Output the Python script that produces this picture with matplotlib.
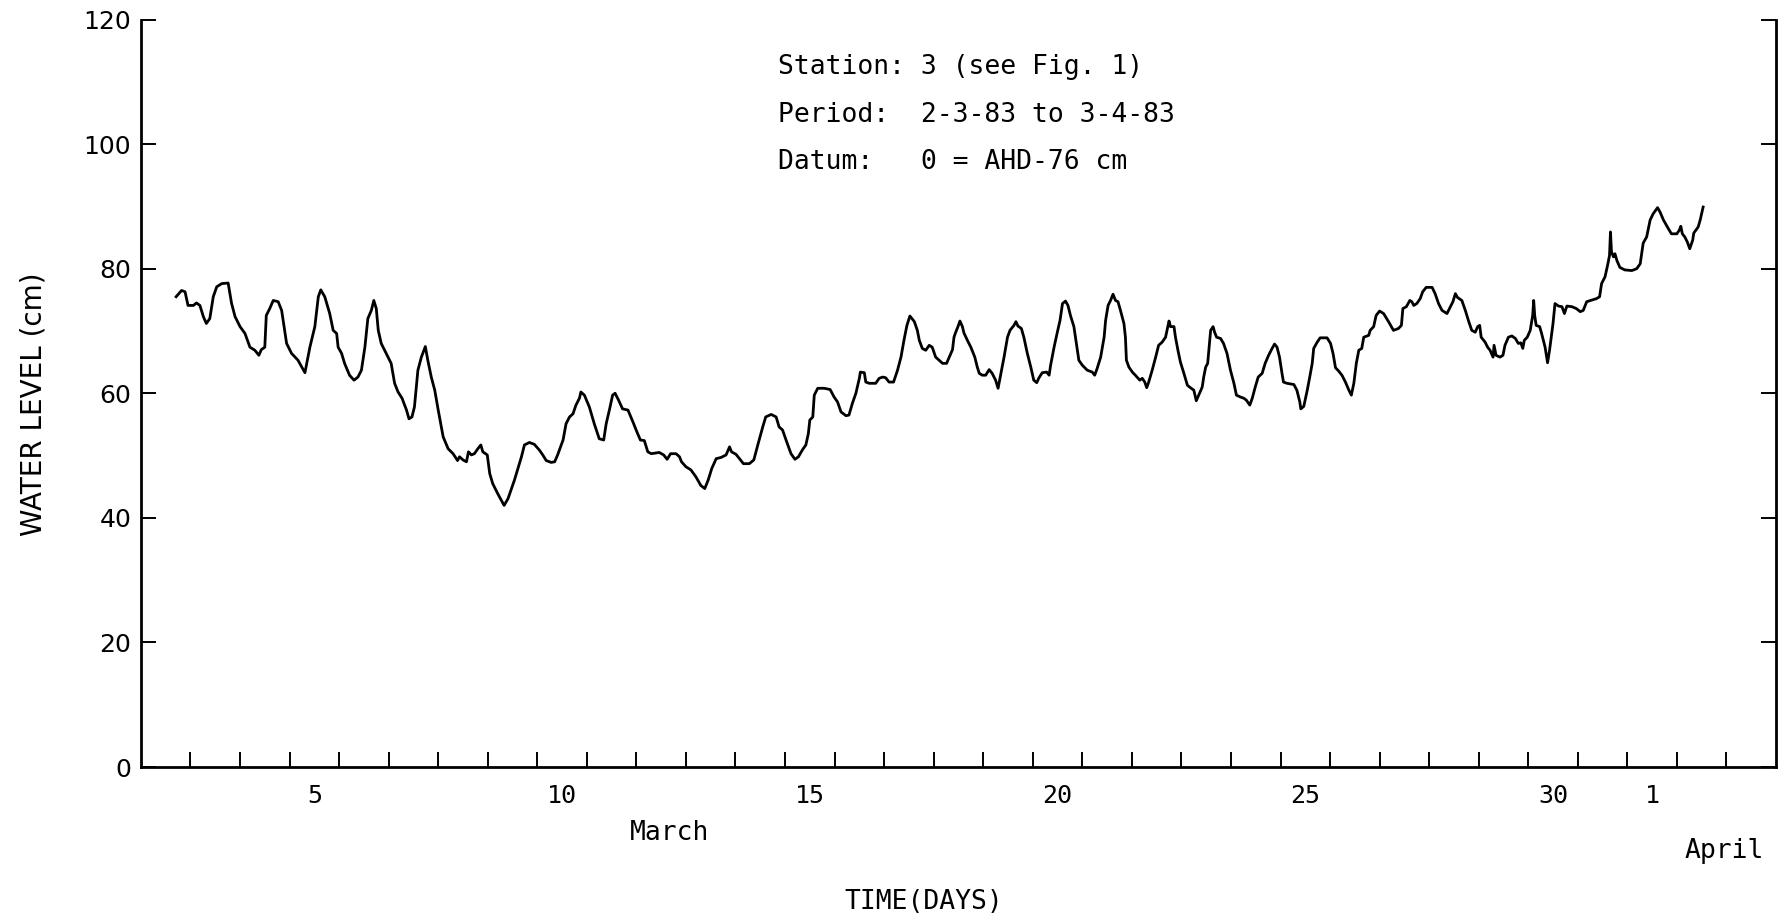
import matplotlib
matplotlib.use("Agg")
import matplotlib.pyplot as plt

# water level record, station 3, 2 March - 3 April 1983
# x = day of March (integer = midnight), April 1 = 32
day = [
    2.71, 2.82, 2.89, 2.95, 3.06, 3.12, 3.19, 3.26, 3.32, 3.39, 3.46, 3.53, 3.63, 3.76, 3.83, 3.90,
    4.00, 4.10, 4.20, 4.30, 4.38, 4.43, 4.50, 4.53, 4.60, 4.67, 4.77, 4.84, 4.94, 5.04, 5.17, 5.31,
    5.41, 5.51, 5.58, 5.63, 5.71, 5.81, 5.88, 5.95, 5.98, 6.05, 6.11, 6.21, 6.30, 6.38, 6.45, 6.52,
    6.58, 6.65, 6.70, 6.75, 6.79, 6.85, 6.95, 7.05, 7.12, 7.19, 7.27, 7.36, 7.41, 7.47, 7.52, 7.59,
    7.66, 7.74, 7.79, 7.86, 7.93, 8.00, 8.10, 8.20, 8.30, 8.39, 8.43, 8.50, 8.57, 8.61, 8.67, 8.73,
    8.80, 8.86, 8.90, 8.99, 9.04, 9.10, 9.20, 9.33, 9.41, 9.54, 9.68, 9.74, 9.84, 9.94, 10.04, 10.11,
    10.18, 10.28, 10.35, 10.41, 10.52, 10.58, 10.65, 10.72, 10.78, 10.85, 10.88, 10.95, 11.05, 11.15,
    11.25, 11.34, 11.39, 11.46, 11.52, 11.57, 11.64, 11.72, 11.83, 11.93, 12.01, 12.08, 12.16, 12.23,
    12.30, 12.46, 12.55, 12.62, 12.69, 12.80, 12.87, 12.91, 13.00, 13.10, 13.20, 13.30, 13.38, 13.45,
    13.52, 13.61, 13.71, 13.81, 13.88, 13.92, 14.01, 14.08, 14.16, 14.28, 14.37, 14.45, 14.55, 14.61,
    14.72, 14.82, 14.88, 14.95, 15.02, 15.12, 15.20, 15.27, 15.35, 15.42, 15.47, 15.50, 15.56, 15.59,
    15.66, 15.79, 15.91, 15.99, 16.06, 16.13, 16.23, 16.29, 16.36, 16.43, 16.50, 16.52, 16.60, 16.63,
    16.70, 16.83, 16.90, 16.97, 17.03, 17.10, 17.19, 17.27, 17.34, 17.40, 17.46, 17.52, 17.61, 17.67,
    17.71, 17.77, 17.84, 17.91, 17.97, 18.04, 18.11, 18.18, 18.26, 18.33, 18.38, 18.41, 18.44, 18.49,
    18.53, 18.58, 18.61, 18.68, 18.75, 18.83, 18.88, 18.92, 18.98, 19.05, 19.12, 19.18, 19.25, 19.30,
    19.35, 19.42, 19.49, 19.54, 19.62, 19.66, 19.70, 19.77, 19.82, 19.89, 19.96, 20.02, 20.08, 20.12,
    20.19, 20.28, 20.33, 20.36, 20.43, 20.49, 20.55, 20.60, 20.66, 20.71, 20.76, 20.83, 20.88, 20.93,
    21.00, 21.10, 21.20, 21.25, 21.30, 21.37, 21.44, 21.47, 21.52, 21.57, 21.62, 21.67, 21.72, 21.77,
    21.84, 21.87, 21.89, 21.94, 22.01, 22.07, 22.16, 22.21, 22.26, 22.30, 22.34, 22.41, 22.48, 22.54,
    22.61, 22.68, 22.71, 22.75, 22.78, 22.85, 22.88, 22.93, 22.98, 23.05, 23.12, 23.18, 23.25, 23.30,
    23.35, 23.42, 23.45, 23.49, 23.53, 23.56, 23.59, 23.64, 23.67, 23.71, 23.79, 23.85, 23.92, 23.99,
    24.06, 24.11, 24.19, 24.26, 24.31, 24.38, 24.43, 24.49, 24.55, 24.63, 24.69, 24.76, 24.83, 24.88,
    24.93, 24.98, 25.03, 25.06, 25.13, 25.27, 25.33, 25.39, 25.41, 25.47, 25.54, 25.59, 25.64, 25.67,
    25.74, 25.80, 25.94, 26.01, 26.06, 26.11, 26.17, 26.24, 26.31, 26.38, 26.43, 26.48, 26.53, 26.58,
    26.64, 26.68, 26.78, 26.81, 26.88, 26.93, 27.00, 27.08, 27.18, 27.28, 27.38, 27.44, 27.47, 27.54,
    27.61, 27.65, 27.69, 27.75, 27.82, 27.87, 27.94, 28.06, 28.12, 28.19, 28.26, 28.36, 28.43, 28.48,
    28.53, 28.57, 28.66, 28.73, 28.80, 28.86, 28.93, 28.98, 29.02, 29.05, 29.13, 29.18, 29.23, 29.29,
    29.31, 29.35, 29.43, 29.49, 29.53, 29.60, 29.67, 29.74, 29.80, 29.85, 29.89, 29.92, 29.98, 30.04,
    30.09, 30.11, 30.13, 30.16, 30.23, 30.27, 30.34, 30.39, 30.43, 30.50, 30.54, 30.61, 30.68, 30.73,
    30.78, 30.88, 30.97, 31.05, 31.11, 31.18, 31.26, 31.38, 31.44, 31.48, 31.55, 31.60, 31.64, 31.66,
    31.68, 31.72, 31.75, 31.79, 31.85, 31.95, 32.09, 32.19, 32.26, 32.29, 32.32, 32.39, 32.46, 32.52,
    32.61, 32.66, 32.73, 32.83, 32.89, 33.00, 33.05, 33.08, 33.11, 33.16, 33.21, 33.26, 33.32, 33.34,
    33.43, 33.47, 33.53,
]
level = [
    75.5, 76.5, 76.3, 74.1, 74.1, 74.5, 74.1, 72.3, 71.2, 72.0, 75.5, 77.1, 77.6, 77.7, 74.4, 72.3,
    70.7, 69.6, 67.4, 66.9, 66.1, 67.0, 67.4, 72.5, 73.6, 74.9, 74.7, 73.3, 68.0, 66.4, 65.3, 63.3,
    67.4, 70.7, 75.5, 76.6, 75.5, 72.8, 70.1, 69.6, 67.4, 66.4, 64.8, 62.9, 62.1, 62.6, 63.7, 67.4,
    72.0, 73.3, 74.9, 73.6, 70.1, 68.0, 66.4, 64.8, 61.6, 60.2, 59.2, 57.3, 55.9, 56.2, 57.8, 63.7,
    65.8, 67.5, 65.3, 62.6, 60.5, 57.3, 53.0, 51.1, 50.3, 49.2, 49.8, 49.3, 49.0, 50.6, 50.1, 50.3,
    51.1, 51.7, 50.6, 50.1, 47.1, 45.5, 43.9, 42.0, 43.1, 46.1, 49.8, 51.7, 52.1, 51.8, 50.9, 50.1,
    49.2, 48.9, 49.0, 50.1, 52.5, 55.1, 56.2, 56.7, 58.1, 59.2, 60.2, 59.7, 57.8, 55.1,
    52.7, 52.5, 55.1, 57.5, 59.7, 60.0, 58.9, 57.5, 57.3, 55.4, 53.8, 52.5, 52.4, 50.6,
    50.3, 50.5, 50.1, 49.4, 50.3, 50.3, 49.8, 49.0, 48.2, 47.7, 46.6, 45.2, 44.7, 46.1,
    47.9, 49.5, 49.7, 50.1, 51.4, 50.6, 50.2, 49.5, 48.7, 48.7, 49.3, 51.7, 54.6, 56.2,
    56.6, 56.2, 54.6, 54.1, 52.5, 50.3, 49.4, 49.8, 50.9, 51.7, 53.5, 55.7, 56.2, 59.7,
    60.8, 60.8, 60.6, 59.4, 58.6, 57.0, 56.4, 56.5, 58.4, 60.0, 62.4, 63.4, 63.3, 61.8,
    61.6, 61.6, 62.4, 62.6, 62.5, 61.8, 61.8, 63.7, 65.8, 68.5, 70.9, 72.4, 71.5, 70.1,
    68.5, 67.2, 66.9, 67.7, 67.4, 65.8, 65.3, 64.8, 64.8, 66.1, 67.0, 69.0, 69.7, 70.7,
    71.6, 70.7, 69.7, 68.5, 67.4, 65.8, 64.2, 63.2, 62.9, 62.9, 63.8, 63.2, 62.1, 60.8,
    62.9, 65.8, 69.0, 70.1, 70.9, 71.5, 70.8, 70.4, 69.0, 66.4, 64.2, 62.1, 61.7, 62.4,
    63.3, 63.4, 62.9, 64.5, 67.4, 69.6, 71.7, 74.4, 74.8, 74.1, 72.5, 70.7, 68.0, 65.3,
    64.5, 63.7, 63.4, 62.9, 64.0, 65.8, 69.0, 71.7, 74.1, 74.9, 75.9, 74.9, 74.7, 73.3,
    71.2, 69.0, 65.3, 64.2, 63.4, 62.9, 62.1, 62.4, 61.8, 60.9, 61.8, 63.7, 65.8, 67.7,
    68.2, 69.0, 70.1, 71.6, 70.7, 70.7, 69.0, 66.9, 65.0, 63.2, 61.3, 60.9, 60.5, 58.8,
    59.7, 61.0, 62.6, 64.2, 64.8, 67.4, 70.1, 70.7, 69.8, 69.0, 68.8, 68.0, 66.4, 63.7,
    61.6, 59.7, 59.4, 59.2, 58.9, 58.1, 59.2, 61.0, 62.6, 63.2, 64.8, 66.1, 67.2, 67.9,
    67.4, 65.8, 63.2, 61.8, 61.6, 61.4, 60.5, 58.6, 57.5, 57.9, 60.5, 62.6, 64.8, 67.2,
    68.2, 68.9, 68.9, 68.0, 66.4, 64.1, 63.6, 62.9, 61.8, 60.5, 59.7, 61.6, 64.8, 66.9,
    67.2, 69.0, 69.3, 70.1, 70.7, 72.5, 73.2, 72.8, 71.5, 70.1, 70.4, 70.9, 73.6, 73.9,
    74.9, 74.7, 74.1, 74.4, 75.2, 76.3, 77.0, 77.0, 76.0, 74.4, 73.3, 72.8, 73.9, 74.7,
    76.0, 75.4, 74.9, 73.3, 71.5, 70.1, 69.8, 70.7, 70.9, 69.0, 68.2, 67.4, 66.9, 65.8,
    67.7, 66.1, 65.8, 66.1, 67.7, 69.0, 69.2, 68.8, 68.0, 68.1, 67.2, 68.5, 69.0, 70.1,
    72.5, 74.9, 72.5, 70.9, 70.7, 69.6, 67.4, 64.9, 66.9, 71.2, 74.4, 74.0, 73.9, 72.8,
    74.0, 73.9, 73.6, 73.1, 73.3, 74.7, 74.9, 75.2, 75.5, 77.6, 78.7, 80.5, 82.1, 85.9,
    82.7, 81.9, 82.4, 81.3, 80.2, 79.8, 79.7, 80.0, 80.8, 82.4, 84.1, 85.1, 87.8, 88.8,
    89.8, 89.1, 87.8, 86.4, 85.6, 85.6, 86.2, 86.8, 85.6, 85.1, 84.3, 83.2, 84.6, 85.7,
    86.7, 87.8, 89.9,
]

day_ticks = list(range(3, 35))
label_pos = [5.5, 10.5, 15.5, 20.5, 25.5, 30.5, 32.5]
label_txt = ["5", "10", "15", "20", "25", "30", "1"]
y_ticks = [0, 20, 40, 60, 80, 100, 120]

fig = plt.figure(figsize=(17.84, 9.21), dpi=100)
ax = fig.add_axes([0.0790, 0.1672, 0.9165, 0.8116])

ax.plot(day, level, color="black", lw=2.0)

ax.set_xlim(2, 35)
ax.set_ylim(0, 120)
ax.spines["top"].set_visible(False)
for s in ["left", "right", "bottom"]:
    ax.spines[s].set_linewidth(2.0)

# day boundaries (unlabelled) and day labels in between
ax.set_xticks(day_ticks)
ax.set_xticklabels([])
ax.set_xticks(label_pos, label_txt, minor=True)
ax.tick_params(axis="x", which="major", direction="in", length=11, width=1.4)
ax.tick_params(axis="x", which="minor", length=0, pad=12)
for lab in ax.get_xticklabels(minor=True):
    lab.set_fontfamily("DejaVu Sans Mono")
    lab.set_fontsize(18)

ax.set_yticks(y_ticks)
ax.tick_params(axis="y", which="major", direction="in", length=11, width=1.4,
               right=True, labelsize=18, pad=7)

trans = ax.get_xaxis_transform()
ax.text(12.67, -0.088, "March", transform=trans, ha="center", va="center",
        family="DejaVu Sans Mono", fontsize=19)
ax.text(34.76, -0.112, "April", transform=trans, ha="right", va="center",
        family="DejaVu Sans Mono", fontsize=19)
ax.text(17.79, -0.181, "TIME(DAYS)", transform=trans, ha="center", va="center",
        family="DejaVu Sans Mono", fontsize=19)

fig.text(0.019, 0.5614, "WATER LEVEL (cm)", rotation=90, ha="center", va="center",
         fontsize=20)

info = ["Station: 3 (see Fig. 1)", "Period:  2-3-83 to 3-4-83", "Datum:   0 = AHD-76 cm"]
for txt, yv in zip(info, [112.3, 104.6, 97.1]):
    ax.text(14.86, yv, txt, ha="left", va="center", family="DejaVu Sans Mono", fontsize=19)

fig.savefig("out.png", dpi=100, facecolor="white")
